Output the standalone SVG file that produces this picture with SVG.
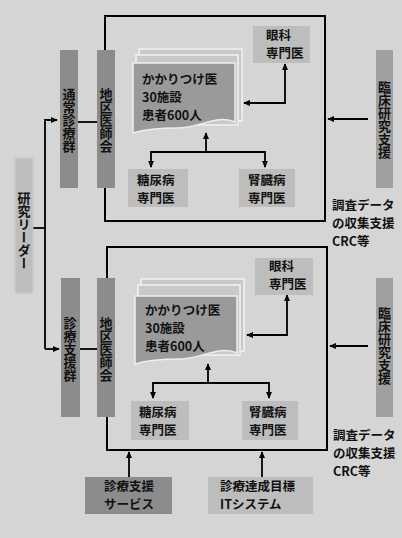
<svg xmlns="http://www.w3.org/2000/svg" width="402" height="538" viewBox="0 0 402 538">
<defs>
<marker id="ah" viewBox="0 0 8 8" refX="7" refY="4" markerWidth="7" markerHeight="7" markerUnits="userSpaceOnUse" orient="auto-start-reverse">
<path d="M0,0.5 L8,4 L0,7.5 Z" fill="#000"/>
</marker>
<filter id="soft" x="-10%" y="-10%" width="120%" height="120%"><feGaussianBlur stdDeviation="1.2"/></filter>
</defs>
<style>
text{font-family:"Noto Sans CJK JP","Liberation Sans",sans-serif;font-weight:bold;font-size:12.5px;fill:#111}
.v{writing-mode:vertical-rl;text-anchor:middle;font-size:13px}
.frame{fill:none;stroke:#000;stroke-width:2}
.dark{fill:#8c8c8c}
.mid{fill:#a0a0a0}
.light{fill:#bdbdbd}
.sheet{fill:#c9c9c9;stroke:#f2f2f2;stroke-width:1.5}
.front{fill:#9a9a9a;stroke:#eeeeee;stroke-width:1.5}
.con{fill:none;stroke:#000;stroke-width:1.8}
</style>
<rect width="402" height="538" fill="#d5d5d5"/>

<g id="frame-top"><rect class="frame" x="105" y="16" width="220" height="205"/></g>
<g id="frame-bottom"><rect class="frame" x="107" y="247" width="220" height="203"/></g>

<g id="connectors">
<path class="con" d="M45,349 V120 H57" marker-end="url(#ah)"/>
<path class="con" d="M45,349 H59" marker-end="url(#ah)"/>
<path class="con" d="M33,228 H45"/>
<path class="con" d="M78,122 H97"/>
<path class="con" d="M80,349 H97"/>
<path class="con" d="M244,103 H285 V64" marker-start="url(#ah)" marker-end="url(#ah)"/>
<path class="con" d="M206,152 V133" marker-end="url(#ah)"/>
<path class="con" d="M151,167 V152 H265 V167" marker-start="url(#ah)" marker-end="url(#ah)"/>
<path class="con" d="M368,119 H328" marker-end="url(#ah)"/>
<path class="con" d="M247,335 H287 V295" marker-start="url(#ah)" marker-end="url(#ah)"/>
<path class="con" d="M208,383 V364" marker-end="url(#ah)"/>
<path class="con" d="M153,398 V383 H269 V398" marker-start="url(#ah)" marker-end="url(#ah)"/>
<path class="con" d="M368,346 H330" marker-end="url(#ah)"/>
<path class="con" d="M129,477 V452" marker-end="url(#ah)"/>
<path class="con" d="M262,477 V452" marker-end="url(#ah)"/>
</g>

<g id="leader"><rect class="light" x="15" y="158" width="18" height="135" filter="url(#soft)"/><text class="v" x="24" y="231">研究リーダー</text></g>

<g id="group-top"><rect class="dark" x="60" y="50" width="18" height="138"/><text class="v" x="69" y="120">通常診療群</text></g>
<g id="assoc-top"><rect class="dark" x="97" y="50" width="18" height="138"/><text class="v" x="106" y="120">地区医師会</text></g>
<g id="group-bottom"><rect class="dark" x="61" y="278" width="19" height="139"/><text class="v" x="70" y="349">診療支援群</text></g>
<g id="assoc-bottom"><rect class="dark" x="97" y="278" width="18" height="139"/><text class="v" x="106" y="349">地区医師会</text></g>

<g id="support-top"><rect class="mid" x="376" y="50" width="17" height="138"/><text class="v" x="384.5" y="120">臨床研究支援</text></g>
<g id="support-bottom"><rect class="mid" x="376" y="278" width="17" height="139"/><text class="v" x="384.5" y="346">臨床研究支援</text></g>

<g id="gp-top">
<rect class="sheet" x="139" y="49" width="103" height="72"/>
<rect class="sheet" x="136" y="55" width="102" height="70"/>
<path class="front" d="M133,63 H235 V122 C218,114 198,128 178,128 C160,128 146,129 133,133 Z"/>
<text><tspan x="142" y="84">かかりつけ医</tspan><tspan x="142" dy="18.2">30施設</tspan><tspan x="142" dy="18.2">患者600人</tspan></text>
</g>
<g id="eye-top"><rect class="light" x="253" y="26" width="57" height="37"/><text><tspan x="266" y="40">眼科</tspan><tspan x="266" dy="18.2">専門医</tspan></text></g>
<g id="diab-top"><rect class="light" x="128" y="169" width="60" height="38"/><text><tspan x="137" y="185">糖尿病</tspan><tspan x="137" dy="18.2">専門医</tspan></text></g>
<g id="kid-top"><rect class="light" x="239" y="169" width="56" height="38"/><text><tspan x="248" y="185">腎臓病</tspan><tspan x="248" dy="18.2">専門医</tspan></text></g>

<g id="gp-bottom">
<rect class="sheet" x="141" y="279" width="103" height="72"/>
<rect class="sheet" x="138" y="285" width="102" height="70"/>
<path class="front" d="M135,296 H237 V353 C220,345 200,359 180,359 C162,359 148,360 135,364 Z"/>
<text><tspan x="145" y="315">かかりつけ医</tspan><tspan x="145" dy="18.2">30施設</tspan><tspan x="145" dy="18.2">患者600人</tspan></text>
</g>
<g id="eye-bottom"><rect class="light" x="255" y="258" width="58" height="37"/><text><tspan x="269" y="271">眼科</tspan><tspan x="269" dy="18.2">専門医</tspan></text></g>
<g id="diab-bottom"><rect class="light" x="131" y="401" width="58" height="39"/><text><tspan x="139" y="417">糖尿病</tspan><tspan x="139" dy="18.2">専門医</tspan></text></g>
<g id="kid-bottom"><rect class="light" x="242" y="401" width="56" height="39"/><text><tspan x="249" y="417">腎臓病</tspan><tspan x="249" dy="18.2">専門医</tspan></text></g>

<g id="data-top"><text><tspan x="332" y="210">調査データ</tspan><tspan x="332" dy="18.2">の収集支援</tspan><tspan x="332" dy="18.2">CRC等</tspan></text></g>
<g id="data-bottom"><text><tspan x="333" y="440">調査データ</tspan><tspan x="333" dy="18.2">の収集支援</tspan><tspan x="333" dy="18.2">CRC等</tspan></text></g>

<g id="service"><rect class="dark" x="85" y="477" width="87" height="37"/><text><tspan x="104" y="491">診療支援</tspan><tspan x="104" dy="18.2">サービス</tspan></text></g>
<g id="it-system"><rect class="light" x="208" y="477" width="105" height="37"/><text><tspan x="220" y="491">診療達成目標</tspan><tspan x="220" dy="18.2">ITシステム</tspan></text></g>
</svg>
